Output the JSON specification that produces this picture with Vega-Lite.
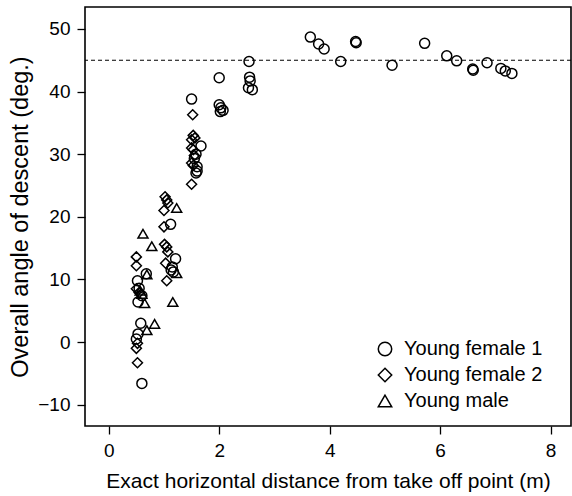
{
  "$schema": "https://vega.github.io/schema/vega-lite/v6.json",
  "width": 486,
  "height": 419,
  "autosize": {"type": "none"},
  "padding": {"left": 85, "top": 7, "right": 1, "bottom": 70},
  "background": "white",
  "config": {
    "font": "Liberation Sans",
    "view": {"stroke": "black", "strokeWidth": 1.6},
    "axis": {
      "domain": false,
      "grid": false,
      "ticks": true,
      "tickColor": "black",
      "tickWidth": 1.3,
      "tickSize": 8,
      "labelColor": "black",
      "labelFontSize": 19,
      "labelPadding": 7,
      "titleColor": "black",
      "titleFontWeight": "normal"
    }
  },
  "datasets": {
    "pts": [
      {"group": "Young female 1", "x": 3.65, "y": 48.7},
      {"group": "Young female 1", "x": 3.8, "y": 47.6},
      {"group": "Young female 1", "x": 3.9, "y": 46.8},
      {"group": "Young female 1", "x": 4.2, "y": 44.8},
      {"group": "Young female 1", "x": 4.47, "y": 48.0},
      {"group": "Young female 1", "x": 4.48, "y": 47.8},
      {"group": "Young female 1", "x": 5.13, "y": 44.2},
      {"group": "Young female 1", "x": 5.72, "y": 47.7},
      {"group": "Young female 1", "x": 6.12, "y": 45.7},
      {"group": "Young female 1", "x": 6.3, "y": 44.9},
      {"group": "Young female 1", "x": 6.59, "y": 43.6},
      {"group": "Young female 1", "x": 6.6, "y": 43.4},
      {"group": "Young female 1", "x": 6.85, "y": 44.6},
      {"group": "Young female 1", "x": 7.1, "y": 43.7},
      {"group": "Young female 1", "x": 7.18, "y": 43.3},
      {"group": "Young female 1", "x": 7.3, "y": 42.9},
      {"group": "Young female 1", "x": 2.54, "y": 44.8},
      {"group": "Young female 1", "x": 2.55, "y": 42.3},
      {"group": "Young female 1", "x": 2.56, "y": 41.7},
      {"group": "Young female 1", "x": 2.53, "y": 40.6},
      {"group": "Young female 1", "x": 2.6, "y": 40.3},
      {"group": "Young female 1", "x": 2.0, "y": 42.2},
      {"group": "Young female 1", "x": 2.0, "y": 37.9},
      {"group": "Young female 1", "x": 2.03, "y": 37.4},
      {"group": "Young female 1", "x": 2.07, "y": 37.0},
      {"group": "Young female 1", "x": 2.02, "y": 36.8},
      {"group": "Young female 1", "x": 1.5, "y": 38.8},
      {"group": "Young female 1", "x": 1.67, "y": 31.3},
      {"group": "Young female 1", "x": 1.58, "y": 30.0},
      {"group": "Young female 1", "x": 1.55, "y": 29.3},
      {"group": "Young female 1", "x": 1.6, "y": 28.0},
      {"group": "Young female 1", "x": 1.6, "y": 27.3},
      {"group": "Young female 1", "x": 1.58, "y": 27.0},
      {"group": "Young female 1", "x": 1.12, "y": 18.8},
      {"group": "Young female 1", "x": 1.21, "y": 13.3},
      {"group": "Young female 1", "x": 1.15, "y": 12.0},
      {"group": "Young female 1", "x": 1.13, "y": 11.5},
      {"group": "Young female 1", "x": 1.17, "y": 11.2},
      {"group": "Young female 1", "x": 0.68, "y": 10.9},
      {"group": "Young female 1", "x": 0.52, "y": 9.8},
      {"group": "Young female 1", "x": 0.55, "y": 8.6},
      {"group": "Young female 1", "x": 0.6, "y": 7.4},
      {"group": "Young female 1", "x": 0.53, "y": 6.4},
      {"group": "Young female 1", "x": 0.58, "y": 3.0},
      {"group": "Young female 1", "x": 0.53, "y": 1.3},
      {"group": "Young female 1", "x": 0.5, "y": 0.5},
      {"group": "Young female 1", "x": 0.6, "y": -6.6},
      {"group": "Young female 2", "x": 1.52, "y": 36.3},
      {"group": "Young female 2", "x": 1.53, "y": 33.0},
      {"group": "Young female 2", "x": 1.56, "y": 32.6},
      {"group": "Young female 2", "x": 1.5, "y": 32.3},
      {"group": "Young female 2", "x": 1.5, "y": 31.0},
      {"group": "Young female 2", "x": 1.53, "y": 30.7},
      {"group": "Young female 2", "x": 1.55, "y": 29.8},
      {"group": "Young female 2", "x": 1.5, "y": 28.6},
      {"group": "Young female 2", "x": 1.53, "y": 28.2},
      {"group": "Young female 2", "x": 1.5, "y": 25.2},
      {"group": "Young female 2", "x": 1.02, "y": 23.2},
      {"group": "Young female 2", "x": 1.05, "y": 22.7},
      {"group": "Young female 2", "x": 1.07, "y": 22.2},
      {"group": "Young female 2", "x": 1.0, "y": 21.0},
      {"group": "Young female 2", "x": 1.0, "y": 18.4},
      {"group": "Young female 2", "x": 1.01, "y": 15.6},
      {"group": "Young female 2", "x": 1.05, "y": 15.2},
      {"group": "Young female 2", "x": 1.07, "y": 14.4},
      {"group": "Young female 2", "x": 1.03, "y": 12.6},
      {"group": "Young female 2", "x": 1.05, "y": 9.8},
      {"group": "Young female 2", "x": 0.5, "y": 13.6},
      {"group": "Young female 2", "x": 0.5, "y": 12.2},
      {"group": "Young female 2", "x": 0.5, "y": 8.5},
      {"group": "Young female 2", "x": 0.55, "y": 7.9},
      {"group": "Young female 2", "x": 0.52, "y": -0.2},
      {"group": "Young female 2", "x": 0.5, "y": -1.0},
      {"group": "Young female 2", "x": 0.52, "y": -3.3},
      {"group": "Young male", "x": 1.23, "y": 21.4},
      {"group": "Young male", "x": 0.62, "y": 17.3},
      {"group": "Young male", "x": 0.78, "y": 15.3},
      {"group": "Young male", "x": 1.23, "y": 11.0},
      {"group": "Young male", "x": 0.69, "y": 10.8},
      {"group": "Young male", "x": 0.57, "y": 8.2},
      {"group": "Young male", "x": 0.6, "y": 7.7},
      {"group": "Young male", "x": 0.65, "y": 6.2},
      {"group": "Young male", "x": 1.16, "y": 6.4},
      {"group": "Young male", "x": 0.83, "y": 2.9},
      {"group": "Young male", "x": 0.69, "y": 1.9}
    ],
    "ref": [{"angle": 45}]
  },
  "layer": [
    {
      "data": {"name": "ref"},
      "mark": {"type": "rule", "color": "black", "strokeWidth": 1.2, "strokeDash": [4, 3]},
      "encoding": {
        "y": {"field": "angle", "type": "quantitative", "scale": {"domain": [-13.4, 53.5], "nice": false, "zero": false}}
      }
    },
    {
      "data": {"name": "pts"},
      "mark": {"type": "point", "filled": false, "stroke": "black", "strokeWidth": 1.5, "opacity": 1, "size": 100},
      "encoding": {
        "x": {
          "field": "x", "type": "quantitative",
          "scale": {"domain": [-0.43, 8.37], "nice": false, "zero": false},
          "axis": {"values": [0, 2, 4, 6, 8], "title": "Exact horizontal distance from take off point (m)", "titleFontSize": 21, "titlePadding": 10}
        },
        "y": {
          "field": "y", "type": "quantitative",
          "scale": {"domain": [-13.4, 53.5], "nice": false, "zero": false},
          "axis": {"values": [-10, 0, 10, 20, 30, 40, 50], "labelExpr": "datum.value < 0 ? '\u2212' + format(-datum.value, 'd') : datum.label", "title": "Overall angle of descent (deg.)", "titleFontSize": 23.5, "titlePadding": 5}
        },
        "shape": {
          "field": "group", "type": "nominal",
          "scale": {"domain": ["Young female 1", "Young female 2", "Young male"], "range": ["circle", "diamond", "triangle-up"]},
          "legend": {
            "title": null, "orient": "none", "legendX": 290, "legendY": 332,
            "labelFontSize": 20, "labelColor": "black", "labelOffset": 9, "rowPadding": 6,
            "symbolSize": 180,
            "symbolStrokeWidth": 1.5, "symbolStrokeColor": "black",
            "encode": {"symbols": {"size": {"value": {"expr": "datum.value === 'Young female 2' ? 420 : (datum.value === 'Young male' ? 110 : 132)"}}}}
          }
        }
      }
    }
  ]
}
